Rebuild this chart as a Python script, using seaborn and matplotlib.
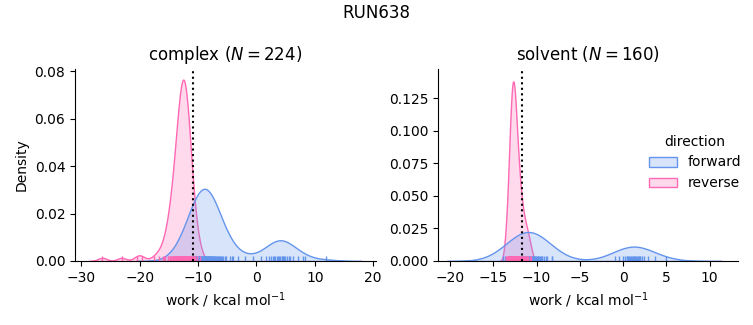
import matplotlib
matplotlib.use("Agg")
import numpy as np
import pandas as pd
import seaborn as sns
import matplotlib.pyplot as plt

# ---------------- data (work values, kcal/mol) ----------------
phases = ["complex", "solvent"]
n_pairs = [224, 160]
free_energies = [-10.85, -11.65]  # dotted vertical lines
directions = ["forward", "reverse"]
colors = ["cornflowerblue", "hotpink"]

complex_forward = [
    -13.06, -12.18, -11.71, -11.38, -11.10, -10.87, -10.67, -10.49, -10.32, -10.16,
    -10.01, -9.87, -9.73, -9.60, -9.47, -9.34, -9.22, -9.10, -8.98, -8.86,
    -8.74, -8.62, -8.50, -8.38, -8.26, -8.13, -8.00, -7.87, -7.73, -7.59,
    -7.44, -7.28, -7.11, -6.93, -6.73, -6.50, -6.22, -5.89, -5.42, -4.54,
    -14.25, -13.19, -12.63, -12.22, -11.89, -11.61, -11.36, -11.14, -10.94, -10.74,
    -10.56, -10.39, -10.22, -10.06, -9.91, -9.76, -9.61, -9.46, -9.32, -9.17,
    -9.03, -8.88, -8.74, -8.59, -8.44, -8.29, -8.14, -7.98, -7.81, -7.64,
    -7.46, -7.26, -7.06, -6.84, -6.59, -6.32, -6.01, -5.67, -5.21, -3.95,
    -9.9, -9.0, -8.6, -8.1,
    -4.2, -3.1, -1.9, -0.6,
    0.86, 1.70, 2.16, 2.50, 2.79, 3.04, 3.27, 3.49, 3.70, 3.90,
    4.10, 4.30, 4.51, 4.73, 4.96, 5.21, 5.50, 5.84, 6.30, 7.14,
    4.4, 7.9, 8.3, 11.9,
]

complex_reverse = [
    -26.4, -23.1, -20.4, -19.7, -15.6, -17.5, -16.7, -16.1,
    -14.77, -14.26, -13.99, -13.79, -13.63, -13.50, -13.38, -13.28, -13.18, -13.09,
    -13.00, -12.92, -12.84, -12.76, -12.69, -12.61, -12.54, -12.47, -12.40, -12.33,
    -12.27, -12.21, -12.16, -12.10, -12.03, -11.97, -11.91, -11.84, -11.77, -11.71,
    -11.63, -11.55, -11.47, -11.38, -11.28, -11.17, -11.04, -10.87, -10.64, -10.20,
    -15.81, -15.21, -14.89, -14.66, -14.48, -14.32, -14.18, -14.05, -13.94, -13.83,
    -13.73, -13.63, -13.54, -13.44, -13.36, -13.27, -13.19, -13.10, -13.02, -12.94,
    -12.87, -12.80, -12.74, -12.67, -12.60, -12.53, -12.46, -12.39, -12.32, -12.24,
    -12.16, -12.07, -11.98, -11.88, -11.76, -11.64, -11.49, -11.31, -11.05, -10.57,
    -14.85, -14.26, -13.92, -13.68, -13.47, -13.29, -13.12, -12.97, -12.82, -12.67,
    -12.54, -12.41, -12.28, -12.15, -12.00, -11.85, -11.67, -11.47, -11.16, -10.64,
    -15.2, -14.8, -10.2, -9.7,
]

solvent_forward = [
    -13.64, -13.09, -12.79, -12.58, -12.41, -12.26, -12.13, -12.01, -11.91, -11.81,
    -11.71, -11.62, -11.54, -11.45, -11.37, -11.29, -11.22, -11.14, -11.06, -10.99,
    -10.91, -10.84, -10.76, -10.68, -10.61, -10.53, -10.45, -10.36, -10.28, -10.19,
    -10.09, -9.99, -9.89, -9.77, -9.64, -9.49, -9.32, -9.11, -8.81, -8.26,
    -13.9, -13.2, -12.6, -12.1, -11.7, -11.4, -11.1, -10.8, -10.5, -10.2,
    -9.8, -9.4, -8.9, -8.2,
    -0.47, -0.02, 0.22, 0.41, 0.56, 0.69, 0.81, 0.93, 1.04, 1.15,
    1.25, 1.36, 1.47, 1.59, 1.71, 1.84, 1.99, 2.18, 2.42, 2.87,
    -0.9, 0.5, 1.2, 1.9, 3.7, 4.9,
]

solvent_reverse = [
    -13.55, -13.38, -13.28, -13.22, -13.16, -13.11, -13.07, -13.04, -13.00, -12.97,
    -12.94, -12.91, -12.89, -12.86, -12.83, -12.81, -12.78, -12.76, -12.74, -12.71,
    -12.69, -12.66, -12.64, -12.62, -12.59, -12.57, -12.54, -12.51, -12.49, -12.46,
    -12.43, -12.40, -12.36, -12.33, -12.29, -12.24, -12.18, -12.12, -12.02, -11.85,
    -13.57, -13.35, -13.23, -13.14, -13.07, -13.00, -12.94, -12.88, -12.83, -12.78,
    -12.72, -12.67, -12.62, -12.56, -12.50, -12.43, -12.36, -12.27, -12.15, -11.93,
    -12.3, -12.2, -12.1, -12.0, -11.95, -11.9, -11.8, -11.75, -11.7, -11.6,
    -11.55, -11.5, -11.4, -11.35, -11.25, -11.15, -11.05, -10.95, -10.8, -10.6,
]

# ---------------- table ----------------
series = {
    ("complex", "forward"): complex_forward,
    ("complex", "reverse"): complex_reverse,
    ("solvent", "forward"): solvent_forward,
    ("solvent", "reverse"): solvent_reverse,
}
frames = []
for (ph, d), vals in series.items():
    frames.append(pd.DataFrame({"work": vals, "direction": d, "phase": ph}))
df = pd.concat(frames, ignore_index=True)

g = sns.displot(
    data=df, x="work", hue="direction", col="phase", kind="kde",
    fill=True, rug=True, common_norm=True, bw_adjust=0.87,
    hue_order=directions, col_order=phases,
    palette=dict(zip(directions, colors)),
    facet_kws=dict(sharex=False, sharey=False),
    height=3.25, aspect=1.0,
)

fig = g.figure
fig.set_size_inches(7.53, 3.25)
W, H = 753.0, 325.0
positions = [
    [75 / W, 64 / H, 301 / W, 192.5 / H],
    [438.3 / W, 64 / H, 300 / W, 192.5 / H],
]
xlims = [(-31.1, 20.5), (-21.35, 13.3)]
ylims = [(0, 0.0812), (0, 0.1477)]
xticks = [np.arange(-30, 21, 10), np.arange(-20, 11, 5)]
yticks = [np.arange(0, 0.081, 0.02), np.arange(0, 0.126, 0.025)]

axes_list = list(g.axes.flat)
for ax, ph, n, dg, pos, xl, yl, xt, yt in zip(axes_list, phases, n_pairs, free_energies,
                                             positions, xlims, ylims, xticks, yticks):
    ax.axvline(dg, color="black", linestyle=":", linewidth=1.5)
    ax.set_position(pos)
    ax.set_xlim(*xl)
    ax.set_ylim(*yl)
    ax.set_xticks(xt)
    ax.set_yticks(yt)
    ax.set_title(f"{ph} ($N={n}$)", fontsize=12)
    ax.set_xlabel("work / kcal mol$^{-1}$")

axes_list[0].set_ylabel("Density")
axes_list[1].set_ylabel("")

sns.move_legend(g, "center left", bbox_to_anchor=(0.845, 0.5), frameon=False,
                title="direction")

fig.suptitle("RUN638", y=1 - 12.5 / H, va="center", fontsize=12)

fig.savefig("out.png", dpi=100)
